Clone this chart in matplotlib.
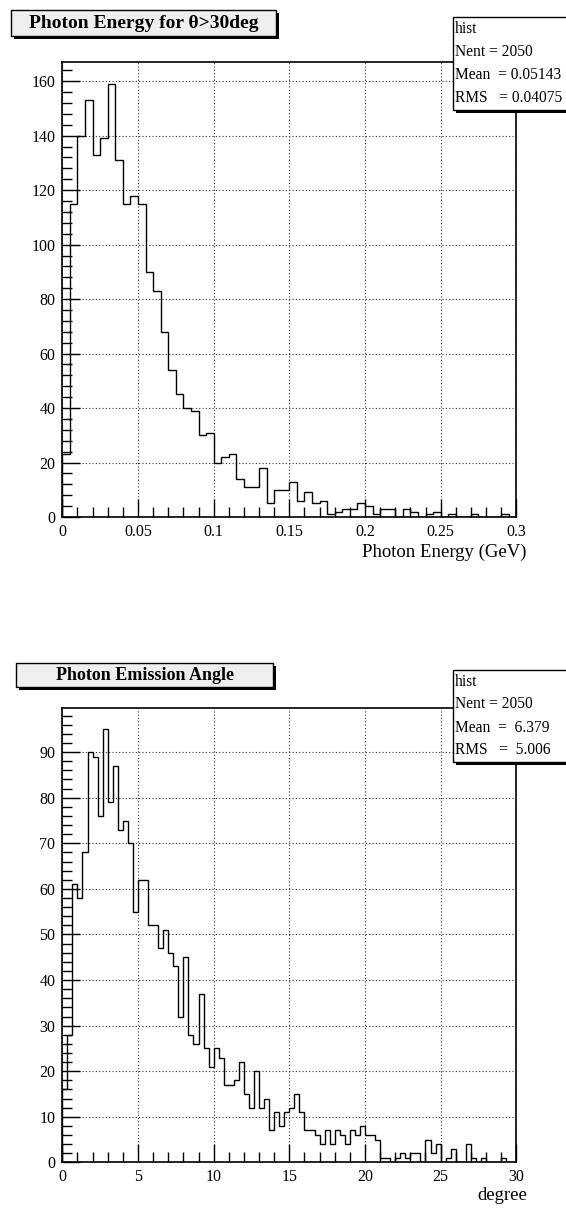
import numpy as np
import matplotlib
matplotlib.use('Agg')
import matplotlib.pyplot as plt
from matplotlib.patches import Rectangle
from matplotlib.ticker import FixedLocator, MultipleLocator, FixedFormatter

plt.rcParams['font.family'] = ['Liberation Serif', 'DejaVu Serif']

# ---------------- data ----------------
energy_counts = [23, 115, 140, 153, 133, 139, 159, 131, 115, 118,
                 115, 90, 83, 68, 54, 45, 40, 39, 30, 31,
                 20, 22, 23, 14, 11, 11, 18, 5, 10, 10,
                 13, 6, 9, 5, 6, 1, 2, 3, 3, 5,
                 4, 1, 3, 3, 0, 3, 2, 0, 1, 2,
                 0, 1, 0, 0, 1, 0, 0, 0, 1, 0]
energy_range = (0.0, 0.3)
energy_ticks = [0, 0.05, 0.1, 0.15, 0.2, 0.25, 0.3]
energy_ticklabels = ['0', '0.05', '0.1', '0.15', '0.2', '0.25', '0.3']
energy_yticks = [0, 20, 40, 60, 80, 100, 120, 140, 160]

angle_counts = [16, 28, 61, 58, 68, 90, 89, 76, 95, 79,
                87, 73, 75, 70, 55, 62, 62, 52, 52, 47,
                51, 46, 43, 32, 45, 28, 26, 37, 25, 21,
                25, 23, 17, 17, 18, 22, 15, 12, 20, 12,
                14, 7, 11, 8, 11, 12, 15, 11, 7, 7,
                6, 4, 7, 4, 7, 6, 4, 7, 6, 8,
                6, 6, 5, 1, 1, 0, 1, 2, 1, 2,
                2, 0, 5, 2, 4, 0, 1, 3, 0, 0,
                4, 1, 0, 1, 0, 0, 0, 1, 0, 0]
angle_range = (0.0, 30.0)
angle_ticks = [0, 5, 10, 15, 20, 25, 30]
angle_ticklabels = ['0', '5', '10', '15', '20', '25', '30']
angle_yticks = [0, 10, 20, 30, 40, 50, 60, 70, 80, 90]

titles = ['Photon Energy for \u03b8>30deg', 'Photon Emission Angle']
xlabels = ['Photon Energy (GeV)', 'degree']
stats = [
    ['hist', 'Nent = 2050', 'Mean  = 0.05143', 'RMS   = 0.04075'],
    ['hist', 'Nent = 2050', 'Mean  =  6.379', 'RMS   =  5.006'],
]

W, H = 566, 1212
fig = plt.figure(figsize=(W / 100, H / 100), dpi=100)
fig.patch.set_facecolor('white')


def fx(px):
    return px / W


def fy(py):
    return 1 - py / H


def draw_panel(top_px, counts, xr, xticks, xticklabels, yticks, yminor,
               xminor, title, title_size, title_box, xlabel, xlabel_y, stat_lines, stat_box):
    left_px, right_px = 62.3, 516.3
    bottom_px = top_px + 454.7
    ax = fig.add_axes([fx(left_px), fy(bottom_px), fx(right_px - left_px),
                       (bottom_px - top_px) / H])
    n = len(counts)
    edges = np.linspace(xr[0], xr[1], n + 1)
    ax.stairs(counts, edges, color='black', lw=1.0, baseline=0)
    ax.set_xlim(*xr)
    ax.set_ylim(0, max(counts) * 1.05)
    ax.xaxis.set_major_locator(FixedLocator(xticks))
    ax.xaxis.set_major_formatter(FixedFormatter(xticklabels))
    ax.xaxis.set_minor_locator(MultipleLocator(xminor))
    ax.yaxis.set_major_locator(FixedLocator(yticks))
    ax.yaxis.set_minor_locator(MultipleLocator(yminor))
    ax.tick_params(which='both', direction='in', top=False, right=False,
                   labelsize=11.5, width=1.0, color='black')
    ax.tick_params(axis='y', which='major', length=13, pad=5)
    ax.tick_params(axis='y', which='minor', length=7)
    ax.tick_params(axis='x', which='major', length=13, pad=5)
    ax.tick_params(axis='x', which='minor', length=7)
    ax.grid(True, which='major', linestyle=(0, (1, 2)), color='#333333', lw=0.8)
    for s in ax.spines.values():
        s.set_linewidth(1.2)
    ax.set_axisbelow(True)

    # title box
    bx0, by0, bx1, by1 = title_box
    sh = 3
    fig.add_artist(Rectangle((fx(bx0 + sh), fy(by1 + sh)), fx(bx1 - bx0), (by1 - by0) / H,
                             transform=fig.transFigure, facecolor='black',
                             edgecolor='black', lw=0))
    fig.add_artist(Rectangle((fx(bx0), fy(by1)), fx(bx1 - bx0), (by1 - by0) / H,
                             transform=fig.transFigure, facecolor='#efefef',
                             edgecolor='black', lw=1.0))
    fig.text(fx((bx0 + bx1) / 2), fy((by0 + by1) / 2), title, ha='center', va='center',
             fontsize=title_size, fontweight='bold')

    # stats box
    sx0, sy0, sx1, sy1 = stat_box
    fig.add_artist(Rectangle((fx(sx0 + sh), fy(sy1 + sh)), fx(sx1 - sx0), (sy1 - sy0) / H,
                             transform=fig.transFigure, facecolor='black',
                             edgecolor='black', lw=0))
    fig.add_artist(Rectangle((fx(sx0), fy(sy1)), fx(sx1 - sx0), (sy1 - sy0) / H,
                             transform=fig.transFigure, facecolor='white',
                             edgecolor='black', lw=1.0))
    nl = len(stat_lines)
    step = (sy1 - sy0) / nl
    for i, line in enumerate(stat_lines):
        fig.text(fx(sx0 + 2), fy(sy0 + step * (i + 0.5)), line, ha='left', va='center',
                 fontsize=11.2)

    fig.text(fx(527), fy(xlabel_y), xlabel, ha='right', va='center', fontsize=13.5)
    return ax


draw_panel(62.3, energy_counts, energy_range, energy_ticks, energy_ticklabels,
           energy_yticks, 4, 0.01, titles[0], 14, (11, 10, 276, 36),
           xlabels[0], 552, stats[0], (453, 17, 575, 110))

draw_panel(707.7, angle_counts, angle_range, angle_ticks, angle_ticklabels,
           angle_yticks, 2, 1, titles[1], 13, (16, 663, 273, 687),
           xlabels[1], 1195, stats[1], (453, 670, 575, 762))

fig.savefig('out.png', dpi=100, facecolor='white')
